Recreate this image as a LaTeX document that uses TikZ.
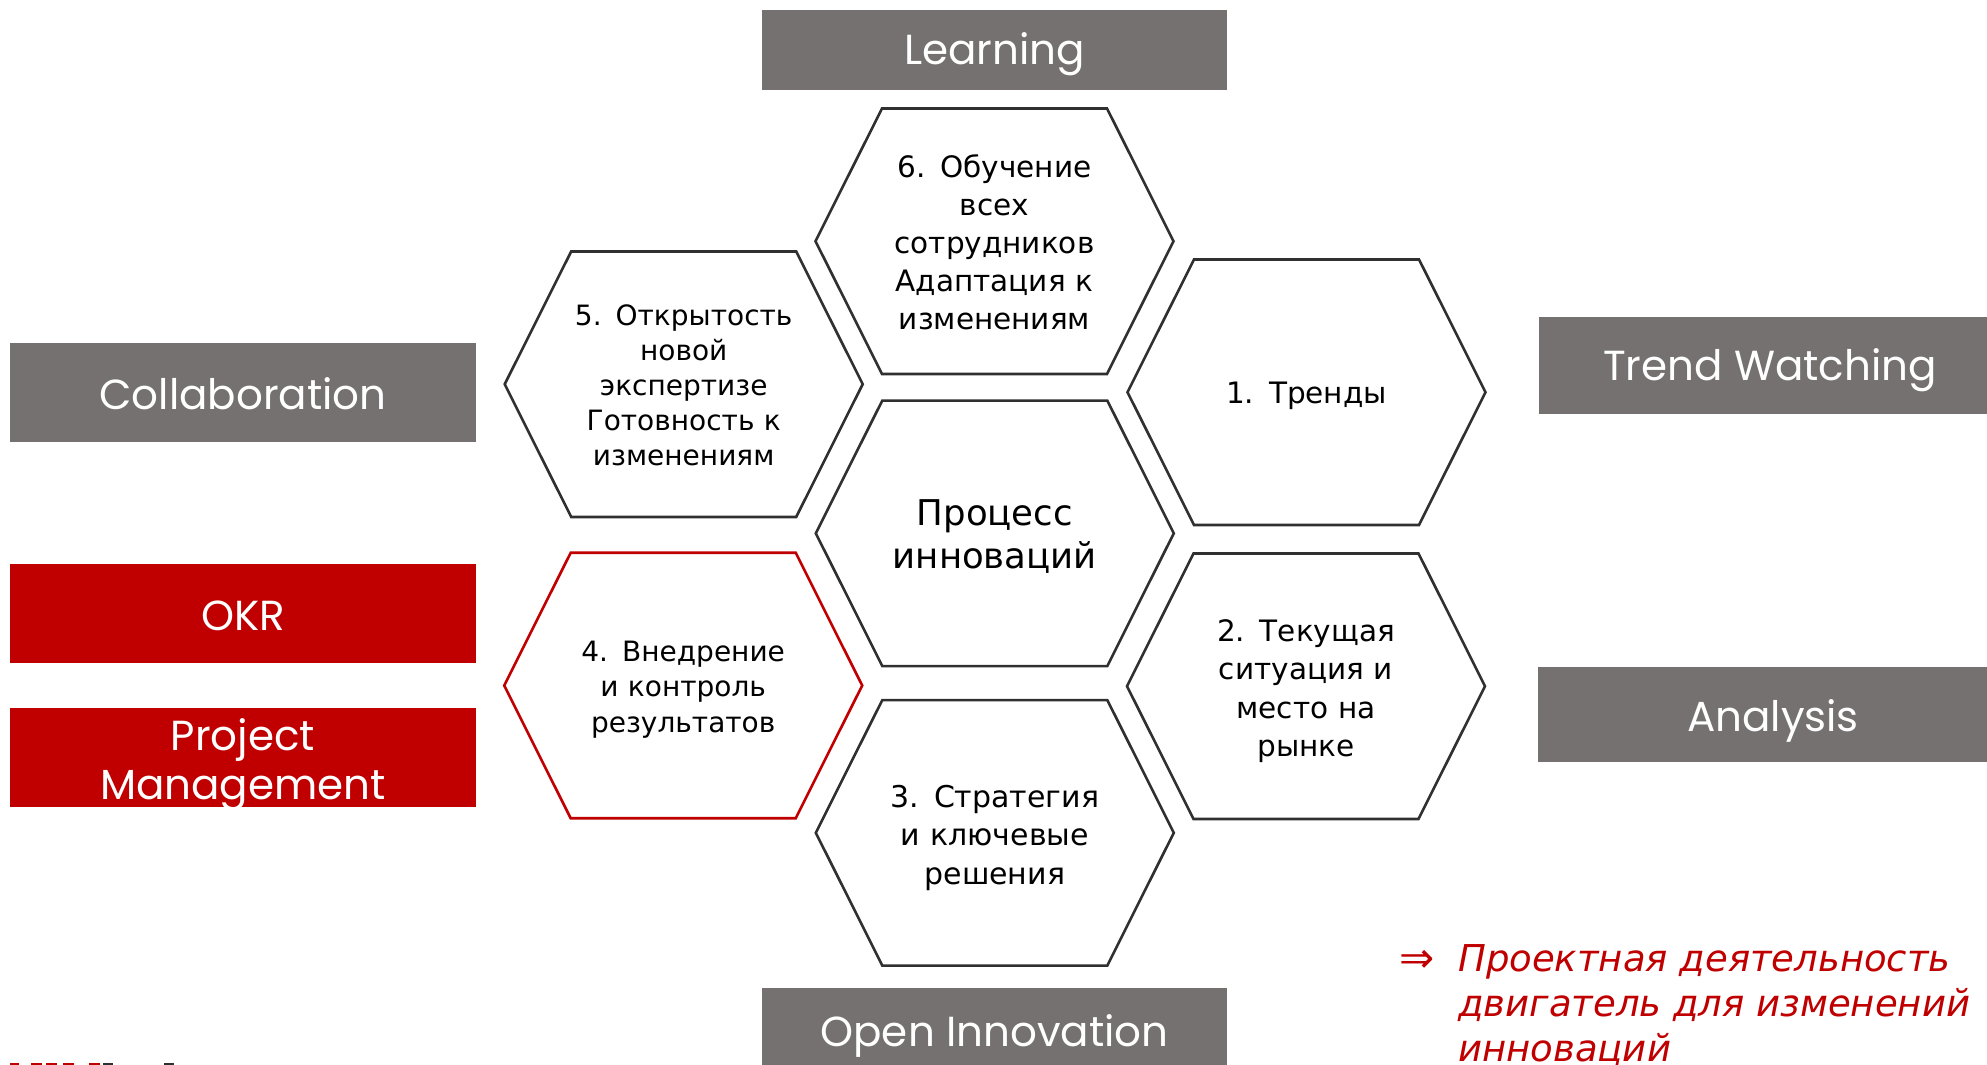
\documentclass[tikz,border=0pt]{standalone}
\usepackage{fontspec}
\setmainfont{DejaVu Sans}
\newfontfamily\labfont{Poppins}
\usetikzlibrary{calc}
\definecolor{boxgray}{HTML}{767171}
\definecolor{accred}{HTML}{C00000}
\definecolor{hexline}{HTML}{303030}
\newcommand\hexat[4]{%
  \coordinate (#1) at (#2,#3);
  \draw[hexedge,draw=#4] (#1) ++(-179,0) -- ++(66.5,-132.75) -- ++(225,0)
    -- ++(66.5,132.75) -- ++(-66.5,132.75) -- ++(-225,0) -- cycle;}
\begin{document}
\begin{tikzpicture}[x=1pt,y=-1pt,
  lbox/.style={anchor=north west,inner sep=0pt,draw=none},
  graybox/.style={lbox,fill=boxgray},
  redbox/.style={lbox,fill=accred},
  ltext/.style={anchor=base,inner sep=0pt,text=white,
    font=\labfont\fontsize{42}{50}\selectfont},
  hexedge/.style={line width=2.6pt,line join=miter},
  hextext/.style={anchor=base,inner sep=0pt,align=center,text width=320pt},
  redtext/.style={anchor=base west,inner sep=0pt,text=accred,
    font=\itshape\fontsize{37}{45}\selectfont},
  logored/.style={fill=accred,draw=none},
  logogray/.style={fill=hexline,draw=none}]
\useasboundingbox (0,0) rectangle (1987,1065);
\clip (0,0) rectangle (1987,1065);

% label boxes
\node[graybox,minimum width=465pt,minimum height=80pt] (learn) at (762,10) {};
\node[ltext] (learntext) at (994.5,65) {Learning};
\node[graybox,minimum width=465pt,minimum height=95pt] (openinn) at (762,988) {};
\node[ltext] (openinntext) at (994.5,1046) {Open Innovation};
\node[graybox,minimum width=466pt,minimum height=99pt] (collab) at (10,343) {};
\node[ltext] (collabtext) at (243,409) {Collaboration};
\node[redbox,minimum width=466pt,minimum height=99pt] (okr) at (10,564) {};
\node[ltext] (okrtext) at (243,630) {OKR};
\node[redbox,minimum width=466pt,minimum height=99pt] (pm) at (10,708) {};
\node[ltext] (pmtext1) at (243,750) {Project};
\node[ltext] (pmtext2) at (243,799) {Management};
\node[graybox,minimum width=462pt,minimum height=97pt] (trend) at (1539,317) {};
\node[ltext] (trendtext) at (1770,380) {Trend Watching};
\node[graybox,minimum width=470pt,minimum height=95pt] (analysis) at (1538,667) {};
\node[ltext] (analysistext) at (1773,731) {Analysis};

% hexagons
\hexat{h6}{994.5}{241.2}{hexline}
\hexat{hc}{994.8}{533.3}{hexline}
\hexat{h3}{994.8}{832.8}{hexline}
\hexat{h5}{683.7}{384.2}{hexline}
\hexat{h4}{683.2}{685.5}{accred}
\hexat{h1}{1306.5}{392.2}{hexline}
\hexat{h2}{1306}{686.2}{hexline}

% hexagon texts
\node[hextext,font=\fontsize{29.5}{38}\selectfont] (t6) at (994.5,177)
  {6. Обучение\\всех\\сотрудников\\Адаптация к\\изменениям};
\node[hextext,font=\fontsize{35.5}{43}\selectfont] (tc) at (994.8,525.5)
  {Процесс\\инноваций};
\node[hextext,font=\fontsize{30}{38.5}\selectfont] (t3) at (994.8,807)
  {3. Стратегия\\и ключевые\\решения};
\node[hextext,font=\fontsize{28}{35}\selectfont] (t5) at (683.7,325)
  {5. Открытость\\новой\\экспертизе\\Готовность к\\изменениям};
\node[hextext,font=\fontsize{28}{35.3}\selectfont] (t4) at (683.2,661.5)
  {4. Внедрение\\и контроль\\результатов};
\node[hextext,font=\fontsize{29.5}{37}\selectfont] (t1) at (1306.5,403.5)
  {1. Тренды};
\node[hextext,font=\fontsize{29.5}{38.5}\selectfont] (t2) at (1306,641)
  {2. Текущая\\ситуация и\\место на\\рынке};

% red conclusion
\node[redtext,font=\fontsize{42}{45}\selectfont] (arrow) at (1399,972) {⇒};
\node[redtext] (rt1) at (1458,971) {Проектная деятельность};
\node[redtext] (rt2) at (1458,1016) {двигатель для изменений};
\node[redtext] (rt3) at (1458,1061) {инноваций};

% cut-off logo fragments
\foreach \a/\b in {10/19,31/42,46/57,63/74,89/100}
  \fill[logored] (\a,1062.7) rectangle (\b,1066);
\fill[logogray] (103,1062.7) rectangle (113,1066);
\fill[logogray] (164,1062.7) rectangle (174,1066);
\end{tikzpicture}
\end{document}
